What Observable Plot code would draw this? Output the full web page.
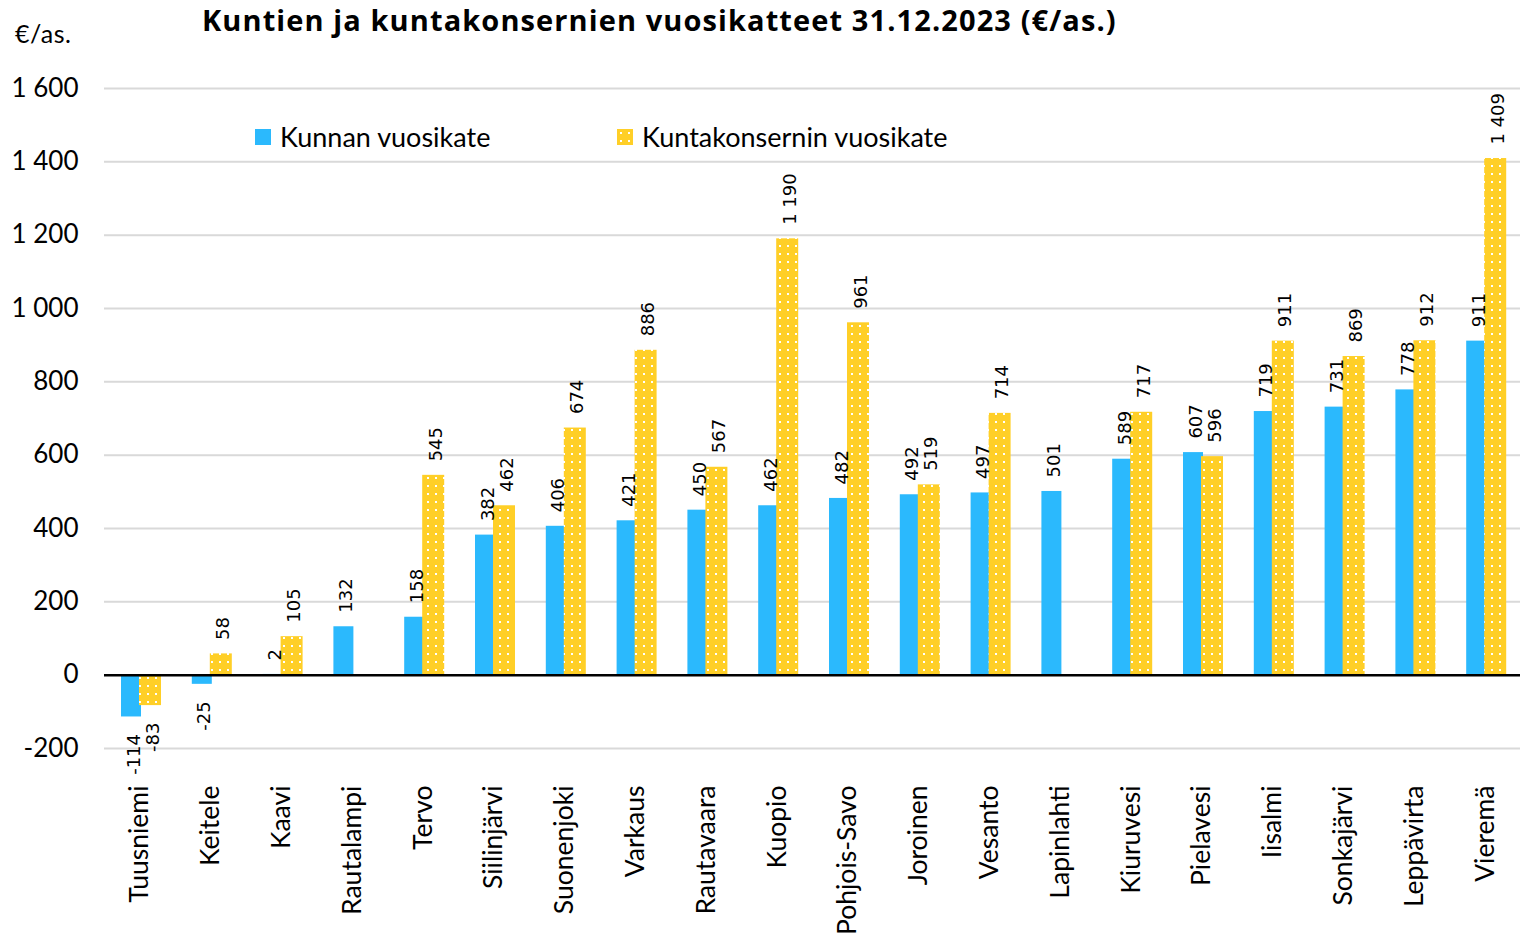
<!DOCTYPE html>
<html>
<head>
<meta charset="utf-8">
<script src="https://cdn.jsdelivr.net/npm/d3@7"></script>
<script src="https://cdn.jsdelivr.net/npm/@observablehq/plot@0.6"></script>
<style>
  html, body { margin: 0; padding: 0; background: #fff; }
  #wrap { position: relative; width: 1527px; height: 936px; font-family: Lato, "Open Sans", sans-serif; color: #000; overflow: hidden; }
  #title { height: 50px; position: relative; }
  #title span { position: absolute; left: 202px; top: 0px; font-family: "Open Sans", sans-serif; font-weight: bold; font-size: 29px; letter-spacing: 1.1px; white-space: nowrap; }
  #unit { position: absolute; left: 15px; top: 18px; font-size: 25px; letter-spacing: 0.5px; }
  .leg { position: absolute; top: 120px; font-size: 27px; white-space: nowrap; display: flex; align-items: center; }
  .leg svg { margin-right: 9px; }
</style>
</head>
<body>
<svg width="0" height="0" style="position:absolute">
  <defs>
    <pattern id="dots" width="8" height="8" patternUnits="userSpaceOnUse">
      <rect width="8" height="8" fill="#ffcf27"></rect>
      <rect x="3" y="3" width="2" height="2" fill="#ffffff"></rect>
    </pattern>
  </defs>
</svg>
<div id="wrap">
  <div id="title"><span id="titleText"></span></div>
  <div id="unit"></div>
  <div id="chart"></div>
  <div id="legend"></div>
</div>
<script>
const titleText = "Kuntien ja kuntakonsernien vuosikatteet 31.12.2023 (€/as.)";
const unitLabel = "€/as.";
const categories = ["Tuusniemi", "Keitele", "Kaavi", "Rautalampi", "Tervo", "Siilinjärvi", "Suonenjoki", "Varkaus", "Rautavaara", "Kuopio", "Pohjois-Savo", "Joroinen", "Vesanto", "Lapinlahti", "Kiuruvesi", "Pielavesi", "Iisalmi", "Sonkajärvi", "Leppävirta", "Vieremä"];
const kunnanVuosikate = [-114, -25, 2, 132, 158, 382, 406, 421, 450, 462, 482, 492, 497, 501, 589, 607, 719, 731, 778, 911];
const konserninVuosikate = [-83, 58, 105, null, 545, 462, 674, 886, 567, 1190, 961, 519, 714, null, 717, 596, 911, 869, 912, 1409];
const seriesNames = ["Kunnan vuosikate", "Kuntakonsernin vuosikate"];
const yTicks = [-200, 0, 200, 400, 600, 800, 1000, 1200, 1400, 1600];

const BLUE = "#2bb9fd";
const YELLOW_FILL = "url(#dots)";

const locale = d3.formatLocale({decimal: ",", thousands: " ", grouping: [3], currency: ["", "€"], minus: "-"});
const fmt = locale.format(",d");

document.getElementById("titleText").textContent = titleText;
document.getElementById("unit").textContent = unitLabel;

const rowsA = categories.map((c, i) => ({c, v: kunnanVuosikate[i]}));
const rowsB = categories.map((c, i) => ({c, v: konserninVuosikate[i]})).filter(d => d.v != null);

const labelStyle = {fontFamily: "DejaVu Sans", fontSize: 18, fill: "#000", rotate: -90, lineAnchor: "middle"};

const chart = Plot.plot({
  width: 1527,
  height: 886,
  marginTop: 38,
  marginBottom: 188,
  marginLeft: 104,
  marginRight: 7,
  style: {fontFamily: "Lato, sans-serif", background: "transparent", overflow: "visible", color: "#000"},
  x: {domain: categories, padding: 0, round: false, axis: null},
  y: {domain: [-200, 1600], axis: null},
  marks: [
    Plot.ruleY(yTicks.filter(t => t !== 0), {stroke: "#d9d9d9", strokeWidth: 2}),
    Plot.axisY(yTicks, {tickSize: 0, tickPadding: 26, tickFormat: fmt, fontSize: 26, fill: "#000", label: null}),
    Plot.axisX({tickSize: 0, tickPadding: 37, tickRotate: -90, fontSize: 26.5, fill: "#000", label: null}),
    Plot.barY(rowsA, {x: "c", y: "v", fill: BLUE, insetLeft: 17, insetRight: 33.8}),
    Plot.barY(rowsB, {x: "c", y: "v", fill: YELLOW_FILL, insetLeft: 35, insetRight: 13.8}),
    Plot.ruleY([0], {stroke: "#000", strokeWidth: 2.5}),
    Plot.text(rowsA.filter(d => d.v >= 0), {x: "c", y: "v", text: d => fmt(d.v), textAnchor: "start", dx: -6, dy: -14, ...labelStyle}),
    Plot.text(rowsA.filter(d => d.v < 0), {x: "c", y: "v", text: d => fmt(d.v), textAnchor: "end", dx: -6, dy: 17, ...labelStyle}),
    Plot.text(rowsB.filter(d => d.v >= 0), {x: "c", y: "v", text: d => fmt(d.v), textAnchor: "start", dx: 13, dy: -14, ...labelStyle}),
    Plot.text(rowsB.filter(d => d.v < 0), {x: "c", y: "v", text: d => fmt(d.v), textAnchor: "end", dx: 13, dy: 17, ...labelStyle})
  ]
});
document.getElementById("chart").appendChild(chart);

// legend
const legend = document.getElementById("legend");
const legendItems = [
  {name: seriesNames[0], fill: BLUE, left: 255},
  {name: seriesNames[1], fill: YELLOW_FILL, left: 617}
];
for (const item of legendItems) {
  const div = document.createElement("div");
  div.className = "leg";
  div.style.left = item.left + "px";
  div.innerHTML = `<svg width="16" height="16"><rect width="16" height="16" fill="${item.fill}"></rect></svg><span></span>`;
  div.querySelector("span").textContent = item.name;
  legend.appendChild(div);
}
</script>
</body>
</html>
